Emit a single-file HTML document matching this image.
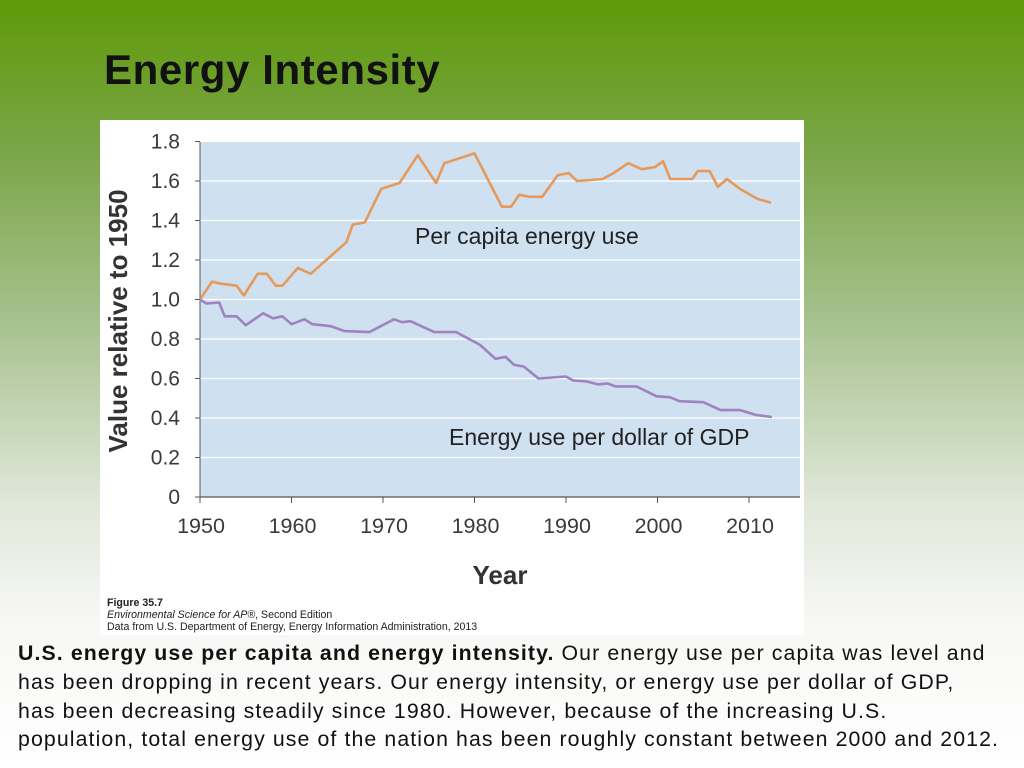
<!DOCTYPE html>
<html><head><meta charset="utf-8">
<style>
html,body{margin:0;padding:0;}
body{width:1024px;height:768px;overflow:hidden;position:relative;font-family:"Liberation Sans",sans-serif;
background:linear-gradient(to bottom,#5e9a08 0px,#7aa548 150px,#a9c392 330px,#dfe7d8 500px,#f7f7f5 620px,#ffffff 768px);}
#title{position:absolute;left:104px;top:46px;font-size:42px;font-weight:bold;color:#111;letter-spacing:0.6px;}
#panel{position:absolute;left:100px;top:120px;width:704px;height:515px;background:#fff;}
#caption{position:absolute;left:18px;top:639px;width:1010px;font-size:21.3px;letter-spacing:1.1px;line-height:28.8px;color:#111;white-space:nowrap;}
#figcap{position:absolute;left:107px;top:598px;font-size:10.6px;line-height:11.8px;color:#222;}
</style></head>
<body>
<div id="title">Energy Intensity</div>
<div id="panel"></div>
<svg id="chart" width="1024" height="768" style="position:absolute;left:0;top:0"></svg>
<div id="figcap"><b>Figure 35.7</b><br><i>Environmental Science for AP®</i>, Second Edition<br>Data from U.S. Department of Energy, Energy Information Administration, 2013</div>
<div id="caption"><b>U.S. energy use per capita and energy intensity.</b> Our energy use per capita was level and<br>has been dropping in recent years. Our energy intensity, or energy use per dollar of GDP,<br>has been decreasing steadily since 1980. However, because of the increasing U.S.<br>population, total energy use of the nation has been roughly constant between 2000 and 2012.</div>
<script>
const perCapitaYears=[1950,1951.3,1952.3,1954,1954.8,1956.3,1957.3,1958.3,1959,1960.7,1962.1,1966,1966.7,1968,1969.8,1971.8,1973.8,1975.8,1976.7,1980,1983,1984,1984.9,1986,1987.4,1989.1,1990.3,1991.2,1994,1995.2,1996.8,1998.3,1999.7,2000.6,2001.4,2003.8,2004.4,2005.7,2006.6,2007.6,2009,2010.9,2012.4];
const perCapitaValues=[1.0,1.09,1.08,1.07,1.02,1.13,1.13,1.07,1.07,1.16,1.13,1.29,1.38,1.39,1.56,1.59,1.73,1.59,1.69,1.74,1.47,1.47,1.53,1.52,1.52,1.63,1.64,1.6,1.61,1.64,1.69,1.66,1.67,1.70,1.61,1.61,1.65,1.65,1.57,1.61,1.56,1.51,1.49];
const gdpYears=[1950,1950.7,1952.1,1952.7,1954,1955,1956.9,1958,1959,1960,1961.4,1962.3,1964.3,1965.8,1968.5,1971.2,1972.1,1973,1975.6,1978,1980.6,1982.3,1983.4,1984.3,1985.4,1987,1990,1990.8,1992.3,1993.5,1994.5,1995.4,1997.7,1999.9,2001.4,2002.4,2005,2006.9,2009,2010.8,2012.5];
const gdpValues=[1.0,0.98,0.985,0.915,0.915,0.87,0.93,0.905,0.915,0.875,0.9,0.875,0.865,0.84,0.835,0.9,0.885,0.89,0.835,0.835,0.77,0.70,0.71,0.67,0.66,0.60,0.61,0.59,0.585,0.57,0.575,0.56,0.56,0.51,0.505,0.485,0.48,0.44,0.44,0.415,0.405];
const xTicks=[1950,1960,1970,1980,1990,2000,2010];
const yTicks=[0,0.2,0.4,0.6,0.8,1.0,1.2,1.4,1.6,1.8];
const yTickLabels=["0","0.2","0.4","0.6","0.8","1.0","1.2","1.4","1.6","1.8"];

const NS="http://www.w3.org/2000/svg";
const svg=document.getElementById('chart');
const L=200,R=800,T=142,B=497;
function xs(y){return 200+(y-1950)*9.15;}
function ys(v){return 497-v*197.5;}
function el(tag,attrs,parent){const e=document.createElementNS(NS,tag);for(const k in attrs)e.setAttribute(k,attrs[k]);(parent||svg).appendChild(e);return e;}

const bg=el('rect',{x:L,y:T,width:R-L,height:B-T,fill:'#cfe0f1'});


yTicks.forEach((v,i)=>{
  if(v>0){const g=el('line',{x1:L,x2:R,y1:ys(v),y2:ys(v),stroke:'#fff','stroke-width':1.3});
  
  }
  const tk=el('line',{x1:L-5,x2:L,y1:ys(v),y2:ys(v),stroke:'#555','stroke-width':1});
  
  
  const t=el('text',{x:L-20,y:ys(v)+7,'text-anchor':'end','font-size':21,fill:'#3a3a3a','font-family':'Liberation Sans, sans-serif'});
  t.textContent=yTickLabels[i];
  
  
});
const ax=el('line',{x1:L,x2:R,y1:B,y2:B,stroke:'#555','stroke-width':1.2});


const ay=el('line',{x1:L,x2:L,y1:T,y2:B,stroke:'#555','stroke-width':1});


xTicks.forEach(yr=>{
  const tk=el('line',{x1:xs(yr),x2:xs(yr),y1:B,y2:B+6,stroke:'#555','stroke-width':1});
  
  
  const t=el('text',{x:xs(yr)+1,y:B+36,'text-anchor':'middle','font-size':21.5,fill:'#3a3a3a','font-family':'Liberation Sans, sans-serif'});
  t.textContent=String(yr);
  
  
});
function pts(xsA,vs){return xsA.map((y,i)=>xs(y).toFixed(1)+','+ys(vs[i]).toFixed(1)).join(' ');}
const l1=el('polyline',{points:pts(perCapitaYears,perCapitaValues),fill:'none',stroke:'#e59a5c','stroke-width':2.6,'stroke-linejoin':'round'});


const l2=el('polyline',{points:pts(gdpYears,gdpValues),fill:'none',stroke:'#a082c0','stroke-width':2.6,'stroke-linejoin':'round'});


const lab1=el('text',{x:415,y:244,'font-size':23,fill:'#222','font-family':'Liberation Sans, sans-serif'});
lab1.textContent='Per capita energy use';


const lab2=el('text',{x:449,y:445,'font-size':23,fill:'#222','font-family':'Liberation Sans, sans-serif'});
lab2.textContent='Energy use per dollar of GDP';


const xt=el('text',{x:500,y:584,'text-anchor':'middle','font-size':26,'font-weight':'bold',fill:'#333','font-family':'Liberation Sans, sans-serif'});
xt.textContent='Year';


const yt=el('text',{x:0,y:0,'text-anchor':'middle','font-size':26,'font-weight':'bold',fill:'#333','font-family':'Liberation Sans, sans-serif',transform:'translate(127,321) rotate(-90)'});
yt.textContent='Value relative to 1950';


</script>
</body></html>
